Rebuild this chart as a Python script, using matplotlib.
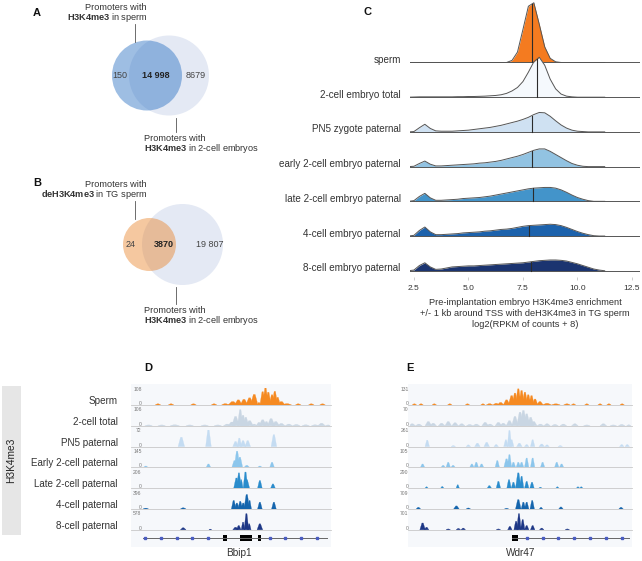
import matplotlib
matplotlib.use('Agg')
import matplotlib.pyplot as plt
import matplotlib.transforms as mtransforms
from matplotlib.patches import Circle, Rectangle
import numpy as np

plt.rcParams['font.family'] = ['Liberation Sans', 'DejaVu Sans']
plt.rcParams['mathtext.fontset'] = 'custom'
plt.rcParams['mathtext.rm'] = 'Liberation Sans'
plt.rcParams['mathtext.bf'] = 'Liberation Sans:bold'

W, H = 642, 561
TXT = '#333333'

# --- A / B: venn counts (left only, overlap, right only)
venn_a = [150, 14998, 8679]
venn_b = [24, 3870, 19807]

# --- C: ridgeline densities
ridge_names = ['sperm', '2-cell embryo total', 'PN5 zygote paternal',
               'early 2-cell embryo paternal', 'late 2-cell embryo paternal',
               '4-cell embryo paternal', '8-cell embryo paternal']
ridge_colors = ['#f47b20', '#f5f9fd', '#cfe1f2', '#92c3e2', '#4394ca', '#1c62ac', '#1b3470']
ridge_means = [7.9, 8.15, 7.9, 7.9, 7.95, 7.8, 7.85]
ridge_x = [2.25, 2.5, 2.75, 3.0, 3.25, 3.5, 3.75, 4.0, 4.25, 4.5, 4.75, 5.0, 5.25,
           5.5, 5.75, 6.0, 6.25, 6.5, 6.75, 7.0, 7.25, 7.5, 7.75, 8.0, 8.25, 8.5,
           8.75, 9.0, 9.25, 9.5, 9.75, 10.0, 10.25, 10.5, 10.75, 11.0, 11.25]
ridge_sperm = [0, 0, 0, 0, 0, 0, 0, 0, 0, 0, 0, 0, 0, 0, 0, 0, 0, 0, 0, 0.06, 0.3, 0.95,
               1.62, 1.72, 1.1, 0.45, 0.12, 0.02, 0, 0, 0, 0, 0, 0, 0, 0, 0]
ridge_total = [0, 0.005, 0.01, 0.01, 0.01, 0.01, 0.01, 0.01, 0.01, 0.015, 0.015, 0.02,
               0.02, 0.025, 0.03, 0.04, 0.05, 0.07, 0.11, 0.18, 0.28, 0.45, 0.72, 1.02,
               1.15, 0.92, 0.52, 0.24, 0.09, 0.03, 0.01, 0, 0, 0, 0, 0, 0]
ridge_pn5 = [0, 0.01, 0.12, 0.22, 0.1, 0.03, 0.02, 0.02, 0.02, 0.03, 0.04, 0.05, 0.07,
             0.09, 0.11, 0.13, 0.16, 0.19, 0.23, 0.27, 0.31, 0.36, 0.42, 0.5, 0.56, 0.55,
             0.45, 0.32, 0.2, 0.11, 0.05, 0.02, 0.01, 0, 0, 0, 0]
ridge_early = [0, 0.01, 0.09, 0.16, 0.07, 0.02, 0.02, 0.03, 0.04, 0.05, 0.06, 0.07, 0.08,
               0.1, 0.11, 0.13, 0.15, 0.18, 0.22, 0.26, 0.3, 0.35, 0.41, 0.47, 0.51, 0.51,
               0.44, 0.35, 0.26, 0.17, 0.09, 0.04, 0.01, 0, 0, 0, 0]
ridge_late = [0, 0.02, 0.14, 0.23, 0.1, 0.03, 0.03, 0.04, 0.05, 0.06, 0.08, 0.09, 0.1,
              0.11, 0.13, 0.15, 0.18, 0.21, 0.24, 0.27, 0.3, 0.33, 0.36, 0.38, 0.39, 0.4,
              0.4, 0.38, 0.33, 0.26, 0.18, 0.11, 0.06, 0.02, 0, 0, 0]
ridge_4cell = [0, 0.02, 0.16, 0.26, 0.12, 0.04, 0.04, 0.05, 0.06, 0.07, 0.09, 0.1, 0.11,
               0.12, 0.14, 0.15, 0.17, 0.19, 0.2, 0.22, 0.25, 0.28, 0.3, 0.31, 0.32, 0.33,
               0.34, 0.33, 0.3, 0.25, 0.19, 0.13, 0.08, 0.04, 0.01, 0, 0]
ridge_8cell = [0, 0.02, 0.15, 0.23, 0.11, 0.04, 0.05, 0.08, 0.11, 0.12, 0.13, 0.14, 0.14,
               0.15, 0.16, 0.17, 0.18, 0.19, 0.2, 0.21, 0.22, 0.23, 0.25, 0.27, 0.29, 0.3,
               0.31, 0.31, 0.3, 0.28, 0.24, 0.2, 0.15, 0.1, 0.05, 0.02, 0]
ridge_vals = [ridge_sperm, ridge_total, ridge_pn5, ridge_early, ridge_late, ridge_4cell, ridge_8cell]
ridge_ticks = [2.5, 5.0, 7.5, 10.0, 12.5]
c_xlabel = ['Pre-implantation embryo H3K4me3 enrichment',
            '+/- 1 kb around TSS with deH3K4me3 in TG sperm',
            'log2(RPKM of counts + 8)']

# --- D / E: genome browser tracks, peaks as (position %, height fraction, width %)
trk_labels = ['Sperm', '2-cell total', 'PN5 paternal', 'Early 2-cell paternal',
              'Late 2-cell paternal', '4-cell paternal', '8-cell paternal']
trk_colors = ['#f58a22', '#c9d6e3', '#c4dcf2', '#8cc6ec', '#2a8ccc', '#1565ad', '#1d3786']
d_max = [108, 106, 72, 145, 206, 396, 578]
e_max = [131, 70, 261, 105, 290, 709, 701]

d_peaks = [
    [(8, .07, 3), (15, .07, 3), (27, .07, 3), (38, .07, 3), (44, .08, 4), (48, .2, 5),
     (51, .3, 4), (54, .33, 4), (57, .42, 4), (59.5, .62, 4), (62, .15, 2), (64, .78, 3),
     (65.5, 1.0, 3), (67, .75, 3), (69, .6, 3), (70.5, .8, 3), (72, .45, 3), (74, .2, 4),
     (77, .08, 5), (83, .07, 3), (90, .07, 3), (96, .07, 3)],
    [(3, .05, 4), (10, .05, 4), (17, .06, 5), (25, .05, 4), (33, .05, 4), (40, .05, 4),
     (45, .1, 4), (47.5, .22, 4), (49.5, .55, 4), (52, .95, 3), (53.5, .62, 3), (55, .5, 3),
     (57, .3, 4), (59.5, .1, 3), (62, .2, 3), (64, .35, 4), (66, .25, 3), (68.5, .42, 4),
     (71, .25, 4), (74, .14, 4), (78, .1, 4), (82, .08, 4), (87, .06, 4), (92, .06, 4),
     (95.5, .15, 4), (99, .05, 3)],
    [(20.5, .55, 3.5), (35, 1.0, 3), (49.5, .3, 3), (51.5, .5, 2.5), (53.5, .35, 3),
     (56, .35, 3), (70, .7, 3)],
    [(1.5, .08, 2.5), (35, .2, 2.5), (49, .4, 3), (50.3, .95, 3), (51.8, .6, 3),
     (55.5, .12, 3), (62.5, .08, 2.5), (69, .3, 2.5)],
    [(50, .6, 3), (51.3, .9, 2.5), (52.5, .5, 2), (54.8, .95, 2.5), (55.5, .5, 3),
     (62.5, .45, 2.5), (69.5, .25, 2.5)],
    [(1.5, .05, 3), (21.5, .07, 3), (48.5, .5, 2.5), (50.2, .35, 2.5), (52, .45, 2.5),
     (53.6, .35, 2.5), (55.5, .85, 3), (57, .5, 2), (62.5, .4, 2.5), (70, .4, 2.5)],
    [(21.5, .12, 3), (36, .04, 1.5), (49.5, .15, 3), (51.2, .25, 2.5), (53.5, .45, 2),
     (55.3, .95, 2.5), (56.8, .35, 2), (62.5, .35, 3)],
]
e_peaks = [
    [(2, .07, 2), (5, .07, 2), (11, .07, 2), (18, .07, 2), (26, .07, 2), (33, .07, 2),
     (36, .08, 3), (39, .1, 3), (41, .15, 3), (43.7, .3, 3), (46, .55, 3), (47.5, .7, 2.5),
     (49, .95, 2.5), (50.5, .85, 2.5), (52, .75, 2.5), (53.5, .6, 2.5), (55, .55, 2.5),
     (56.6, .35, 2.5), (58.8, .2, 3), (62, .1, 4), (66, .07, 4), (71, .07, 3), (74, .07, 2),
     (80, .07, 2), (86, .07, 2), (90, .07, 2), (96, .07, 2)],
    [(1, .12, 3), (4, .1, 3), (8.3, .25, 3), (10.5, .15, 3), (14.3, .15, 3), (17.3, .25, 3),
     (20.4, .18, 3), (23.4, .12, 3), (27, .08, 3), (30, .1, 3), (34, .2, 3), (36.2, .1, 3),
     (40, .2, 3), (42.2, .15, 3), (45, .3, 3), (47.5, .55, 3), (49.8, .8, 3), (51.3, .9, 3),
     (52.8, .7, 3), (54.6, .5, 3), (56, .25, 3), (59, .1, 3), (62, .12, 3), (65.6, .08, 3),
     (69.4, .1, 3), (74.6, .12, 3), (80, .05, 3), (87.5, .12, 3), (92, .05, 3),
     (95.8, .08, 3), (99, .06, 2)],
    [(7.8, .38, 2), (19.6, .06, 2), (26.4, .1, 2), (30.5, .2, 2.5), (34.7, .25, 2.5),
     (39, .12, 2), (43.4, .4, 2), (45, .95, 2), (46, .4, 2), (49.5, .2, 2.5), (52.8, .12, 2),
     (55.5, .4, 2), (59.6, .15, 2.5), (62, .1, 2), (68, .06, 2), (95.8, .12, 2), (98.3, .12, 2)],
    [(5.7, .2, 2), (15, .12, 2), (17.3, .3, 2), (19.5, .12, 2), (28, .2, 2), (30, .3, 2),
     (32.4, .2, 2), (39.5, .4, 2), (43.7, .5, 2.5), (45, .75, 2), (46.8, .3, 2), (49, .3, 2),
     (50.5, .3, 2), (52.8, .55, 2), (55.5, .55, 2), (60, .3, 2), (66.4, .3, 2), (68.6, .2, 2)],
    [(7.5, .08, 1.5), (14.6, .1, 1.5), (21.6, .2, 1.5), (35.9, .15, 2), (40, .4, 2),
     (44.8, .5, 2), (46.8, .35, 2), (49, .9, 2.5), (50.5, .7, 2), (52.8, .4, 2),
     (55.2, .35, 2), (59, .06, 1.5), (66.7, .08, 1.5), (76, .08, 1.5), (77.5, .08, 1.5)],
    [(3.8, .1, 2), (21, .18, 2.5), (26.4, .06, 2), (43.7, .04, 2), (49, .55, 2.5),
     (51.3, .4, 2), (52.8, .4, 2), (55.3, .5, 2), (59.3, .1, 1.5), (68.3, .12, 2), (95.5, .1, 2)],
    [(5.7, .4, 2.5), (7.5, .15, 2), (17.3, .05, 2), (21.9, .08, 2), (24.1, .1, 2), (40, .05, 2),
     (45.2, .2, 2), (48, .5, 2), (49.3, .95, 2), (51, .6, 2), (52.8, .25, 2), (55.5, .25, 2),
     (59.6, .1, 2), (71.2, .05, 2)],
]
d_gene = 'Bbip1'
d_exons = [(42.8, 44.9), (51.9, 58.3), (61.5, 63.1)]
d_span = (0, 98.5)
d_marks = [1, 9.5, 18, 26.4, 35, 68, 76, 84.5, 93]
e_gene = 'Wdr47'
e_exons = [(46.2, 49)]
e_span = (46.2, 99.1)
e_marks = [52.8, 60, 67, 74.2, 81.4, 88.5, 95.8]


def fmt(n):
    return f'{n:,}'.replace(',', ' ') if n >= 10000 else str(n)


def px_axes(x0, y0, x1, y1):
    a = fig.add_axes([x0 / W, 1 - y1 / H, (x1 - x0) / W, (y1 - y0) / H])
    a.set_facecolor('none')
    a.axis('off')
    return a


fig = plt.figure(figsize=(W / 100, H / 100), dpi=100)
ov = fig.add_axes([0, 0, 1, 1])
ov.set_xlim(0, W)
ov.set_ylim(H, 0)
ov.axis('off')

# ---------------- A / B venns
def venn(counts, cy, c_left, r_left, cx_left, cx_right, r_right, top_lines, bot_y, letter_y):
    ov.add_patch(Circle((cx_right, cy), r_right, color='#e4e9f4', lw=0))
    ov.add_patch(Circle((cx_left, cy), r_left, color=c_left, alpha=0.45, lw=0))
    xs = [cx_left - r_left + 8, (cx_left + cx_right) / 2 - 2, cx_right + r_right - 13]
    for x, n, wt in zip(xs, counts, ['normal', 'bold', 'normal']):
        ov.text(x, cy, fmt(n), ha='center', va='center', fontsize=6.5,
                fontweight=wt, color='#444444' if wt == 'normal' else '#222222')
    ov.text(147, letter_y, top_lines[0], ha='right', va='center', fontsize=6.6, color=TXT)
    ov.text(147, letter_y + 10.5, top_lines[1], ha='right', va='center', fontsize=6.6, color=TXT)
    ov.plot([135, 135], [letter_y + 17, cy - r_left + 1], color='#555555', lw=0.6)
    ov.plot([176, 176], [cy + r_right + 2, bot_y - 6], color='#555555', lw=0.6)
    ov.text(144, bot_y, 'Promoters with', ha='left', va='center', fontsize=6.6, color=TXT)
    ov.text(144, bot_y + 10.5, r'$\mathbf{H3K4me3}$ in 2-cell embryos', ha='left',
            va='center', fontsize=6.6, color=TXT)


venn(venn_a, 75.5, '#286fc3', 35, 147, 169, 40,
     ['Promoters with', r'$\mathbf{H3K4me3}$ in sperm'], 138, 7)
venn(venn_b, 244.5, '#e9852c', 26.5, 149.5, 182.5, 40.5,
     ['Promoters with', r'$\mathbf{deH3K4me3}$ in TG sperm'], 310, 184)

for lab, (x, y) in zip('ABCDE', [(37, 13), (37, 183), (367, 12), (148, 368), (410, 368)]):
    ov.text(x, y, lab, ha='center', va='center', fontsize=8, fontweight='bold', color='#111111')

# ---------------- C ridgeline
ax = px_axes(410, 0, 640, 277)
ax.axis('on')
ax.set_xlim(2.32, 12.87)
ax.set_ylim(-0.18, 7.8)
n = len(ridge_names)
ytrans = mtransforms.blended_transform_factory(ax.transAxes, ax.transData)
for i, (name, vals, col, m) in enumerate(zip(ridge_names, ridge_vals, ridge_colors, ridge_means)):
    base = n - 1 - i
    z = 2 + 3 * i
    y = base + np.array(vals)
    ax.fill_between(ridge_x, base, y, color=col, lw=0, zorder=z)
    ax.axhline(base, color='#555555', lw=0.7, zorder=z + 1)
    ax.plot(ridge_x, y, color='#555555', lw=0.7, zorder=z + 1)
    ax.plot([m, m], [base, np.interp(m, ridge_x, y)], color='#2b2b2b', lw=0.8, zorder=z + 1)
    ax.text(-0.04, base + 0.07, name, transform=ytrans,
            ha='right', va='center', fontsize=7.1, color=TXT)
for s in ax.spines.values():
    s.set_visible(False)
ax.set_yticks([])
ax.set_xticks(ridge_ticks)
ax.set_xticklabels([f'{t:.1f}' for t in ridge_ticks])
ax.tick_params(axis='x', length=2, width=0.5, color='#bbbbbb', labelsize=6, labelcolor=TXT, pad=4)
for k, line in enumerate(c_xlabel):
    ov.text(525, 302.5 + 10.8 * k, line, ha='center', va='center', fontsize=6.7, color=TXT)

# ---------------- D / E browser tracks
ov.add_patch(Rectangle((2, 386), 19, 149, color='#e6e6e6', lw=0))
ov.text(11.5, 460, 'H3K4me3', rotation=90, ha='center', va='center', fontsize=7.3, color='#222222')

row0, step, trk_h = 405, 20.8, 17
for i, lab in enumerate(trk_labels):
    ov.text(118, row0 + step * i - 4, lab, ha='right', va='center', fontsize=7.1, color=TXT)


def browser(x0, x1, bg0, bg1, maxes, peaks, exons, span, marks, gene, gene_x):
    ov.add_patch(Rectangle((bg0, 384), bg1 - bg0, 163, color='#f6f8fb', lw=0, zorder=0))
    for i in range(len(peaks)):
        b = row0 + step * i
        ov.plot([bg0, bg1], [b, b], color='#c8c8c8', lw=0.6, zorder=1)
        ov.text(x0 - 1.5, b - trk_h + 1, str(maxes[i]), ha='right', va='center', fontsize=3.6, color='#777777')
        ov.text(x0 - 1.5, b - 1.5, '0', ha='right', va='center', fontsize=3.6, color='#777777')
        ta = px_axes(x0, b - trk_h, x1, b)
        ta.set_xlim(0, 100)
        ta.set_ylim(0, 1)
        for u, h, w in peaks[i]:
            ta.fill([u - w / 2, u - w * 0.12, u + w * 0.12, u + w / 2], [0, h, h, 0],
                    color=trk_colors[i], lw=0.2)
    ga = px_axes(x0, 533, x1, 543)
    ga.set_xlim(0, 100)
    ga.set_ylim(-1, 1)
    ga.plot(span, [0, 0], color='#666666', lw=0.7)
    ga.plot(marks, [0] * len(marks), ls='none', marker='s', ms=1.6, color='#4a5cc0')
    for a0, a1 in exons:
        ga.add_patch(Rectangle((a0, -0.55), a1 - a0, 1.1, color='black', lw=0))
    ov.text(gene_x, 553, gene, ha='center', va='center', fontsize=7.2, color=TXT)


browser(143, 330, 131, 331, d_max, d_peaks, d_exons, d_span, d_marks, d_gene, 239)
browser(410, 631, 408, 632, e_max, e_peaks, e_exons, e_span, e_marks, e_gene, 521)

fig.savefig('out.png', dpi=100)
